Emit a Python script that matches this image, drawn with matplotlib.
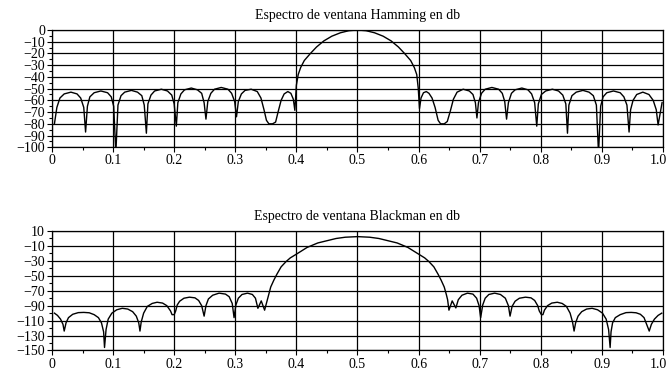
import matplotlib
matplotlib.use('Agg')
import matplotlib.pyplot as plt
from matplotlib.ticker import MultipleLocator
from matplotlib.transforms import ScaledTranslation

plt.rcParams['font.family'] = ['Liberation Serif', 'DejaVu Serif']

# Hamming window spectrum (dB)
ham_x = [0.004, 0.008, 0.013, 0.020, 0.031, 0.041, 0.047, 0.052, 0.055,
         0.058, 0.062, 0.069, 0.080, 0.091, 0.097, 0.101, 0.1045,
         0.108, 0.113, 0.119, 0.130, 0.140, 0.147, 0.151, 0.1545,
         0.157, 0.162, 0.168, 0.179, 0.189, 0.196, 0.200, 0.2035,
         0.206, 0.211, 0.217, 0.228, 0.238, 0.245, 0.249, 0.252,
         0.255, 0.260, 0.266, 0.277, 0.288, 0.294, 0.299, 0.302,
         0.305, 0.310, 0.316, 0.326, 0.336, 0.342, 0.347, 0.351, 0.355, 0.361, 0.366,
         0.370, 0.375, 0.380, 0.386, 0.391, 0.395, 0.3975,
         0.400, 0.403, 0.407, 0.413, 0.423, 0.433, 0.445, 0.458, 0.472, 0.486, 0.500,
         0.514, 0.528, 0.542, 0.555, 0.567, 0.577, 0.587, 0.593, 0.597, 0.5995, 0.6015,
         0.604, 0.608, 0.6126, 0.617, 0.622, 0.627, 0.632, 0.636, 0.642, 0.647,
         0.652, 0.657, 0.663, 0.673, 0.683, 0.689, 0.693, 0.6955,
         0.698, 0.703, 0.709, 0.720, 0.731, 0.737, 0.741, 0.744,
         0.747, 0.752, 0.758, 0.769, 0.779, 0.785, 0.790, 0.7934,
         0.796, 0.801, 0.808, 0.819, 0.829, 0.836, 0.841, 0.8437,
         0.846, 0.851, 0.858, 0.869, 0.879, 0.886, 0.891, 0.8945,
         0.898, 0.902, 0.908, 0.919, 0.930, 0.936, 0.941, 0.9445,
         0.947, 0.951, 0.957, 0.967, 0.977, 0.984, 0.989, 0.992,
         0.9985]
ham_db = [-80, -66, -58, -54.5, -53, -54.5, -58, -66, -87,
          -65, -57, -53.5, -52, -53.5, -57, -65, -105,
          -64, -56, -53, -51.5, -53, -56, -64, -88,
          -63, -55.5, -52, -50.5, -52, -55.5, -63, -82,
          -62, -54.5, -51, -49.5, -51, -54, -62, -76,
          -61, -54, -50.5, -49, -50.5, -54, -61, -74,
          -61, -54.5, -51.5, -50.5, -52.5, -58, -68, -77, -80, -80, -78.5,
          -70, -60, -54.5, -52.5, -54, -59, -68.5,
          -47, -38, -32, -26, -20, -14.5, -9.3, -5.3, -2.4, -0.6, 0,
          -0.6, -2.4, -5.3, -9.3, -14.5, -20, -26, -32, -38, -50, -67,
          -58, -53.5, -52.5, -54, -58, -66, -77, -80, -80, -78,
          -69, -59, -53, -50.5, -52, -55, -62, -75,
          -62, -54, -50.5, -49, -50.5, -54, -61, -76,
          -62, -54, -51, -49.5, -51, -54.5, -62, -82,
          -63, -55, -52, -50.5, -52, -55.5, -63, -88,
          -64, -56, -53, -51.5, -53, -56, -64, -105,
          -65, -57, -53.5, -52, -53.5, -57, -64, -87,
          -68, -60, -55, -53, -55, -60, -68, -81,
          -62]

# Blackman window spectrum (dB)
bla_x = [0.004, 0.009, 0.014, 0.018, 0.020,
         0.023, 0.027, 0.034, 0.043, 0.052, 0.061, 0.069, 0.076, 0.081, 0.0845, 0.086,
         0.0885, 0.092, 0.098, 0.106, 0.115, 0.124, 0.132, 0.138, 0.142, 0.144,
         0.146, 0.150, 0.156, 0.164, 0.172, 0.181, 0.188, 0.194, 0.1965, 0.200, 0.2025,
         0.205, 0.209, 0.216, 0.225, 0.234, 0.240, 0.245, 0.249,
         0.252, 0.256, 0.263, 0.2735, 0.284, 0.290, 0.295, 0.298,
         0.301, 0.305, 0.311, 0.320, 0.328, 0.333, 0.337, 0.3425, 0.348,
         0.3525, 0.3546, 0.358, 0.363, 0.368, 0.375, 0.383, 0.390, 0.400, 0.4175,
         0.435, 0.450, 0.465, 0.480, 0.500, 0.520, 0.535, 0.550, 0.565, 0.5825,
         0.600, 0.610, 0.617, 0.625, 0.632, 0.637, 0.642, 0.6454, 0.6475, 0.6497,
         0.655, 0.661, 0.665, 0.671, 0.680, 0.689, 0.695, 0.699, 0.7016,
         0.705, 0.709, 0.715, 0.7245, 0.734, 0.742, 0.747, 0.7497,
         0.753, 0.758, 0.765, 0.775, 0.784, 0.790, 0.795, 0.7975, 0.801, 0.8035,
         0.806, 0.811, 0.818, 0.827, 0.835, 0.842, 0.848, 0.852, 0.8545,
         0.857, 0.861, 0.867, 0.875, 0.884, 0.893, 0.901, 0.907, 0.911, 0.9135,
         0.915, 0.9175, 0.922, 0.930, 0.9395, 0.948, 0.956, 0.963, 0.969, 0.9775,
         0.981, 0.986, 0.992, 0.998]
bla_db = [-100, -103, -108, -115, -124,
          -113, -106, -101.5, -99.3, -99, -99.5, -102, -106, -113, -125, -146,
          -122, -108, -100, -95.5, -93.5, -94.5, -98, -104, -113, -124,
          -112, -100, -91, -87, -85.4, -86.5, -90, -97, -102, -102, -97,
          -89, -84, -80, -78.6, -79.5, -83, -90, -104,
          -90, -81, -76, -73.2, -74.5, -78, -87, -106,
          -89, -80, -75, -73.2, -75, -80, -93.5, -83.6, -96,
          -82, -75, -65, -56, -48, -38, -31, -26, -21, -12,
          -6, -3, 0, 1.7, 2.5, 1.7, 0, -3, -6, -12,
          -21, -26, -31, -38, -48, -56, -65, -75, -82, -96,
          -83.6, -93, -82, -76, -73.2, -74.5, -80, -90, -106,
          -89, -80, -75, -73.2, -75, -80, -90, -104,
          -91, -84, -80, -78.6, -79.5, -83, -90, -97, -102, -102,
          -96, -90, -86.5, -85.4, -87, -91, -100, -112, -124,
          -113, -104, -98, -94.5, -93.5, -95.5, -100, -108, -122, -146,
          -125, -113, -106, -102, -99.3, -99, -99.5, -101.5, -106, -124,
          -115, -108, -103, -100]

titles = ['Espectro de ventana Hamming en db', 'Espectro de ventana Blackman en db']
x_ticks = [0, 0.1, 0.2, 0.3, 0.4, 0.5, 0.6, 0.7, 0.8, 0.9, 1.0]
x_labels = ['0', '0.1', '0.2', '0.3', '0.4', '0.5', '0.6', '0.7', '0.8', '0.9', '1.0']
ham_yticks = list(range(0, -101, -10))
bla_yticks = list(range(10, -151, -20))

fig = plt.figure(figsize=(6.69, 3.71), dpi=100)
ax1 = fig.add_axes([0.0777, 0.603, 0.9133, 0.3162])
ax2 = fig.add_axes([0.0777, 0.0553, 0.9133, 0.322])

def style(ax, yticks, ylim, minor_y):
    ax.set_xlim(0, 1.0)
    ax.set_ylim(*ylim)
    ax.set_xticks(x_ticks)
    ax.set_xticklabels(x_labels)
    ax.set_yticks(yticks)
    ax.xaxis.set_minor_locator(MultipleLocator(0.05))
    ax.yaxis.set_minor_locator(MultipleLocator(minor_y))
    ax.grid(True, which='major', color='black', linewidth=0.9)
    ax.tick_params(which='major', direction='out', length=3.6, width=0.8,
                   labelsize=10, pad=1.5, top=False, right=False)
    ax.tick_params(which='minor', direction='out', length=2.5, width=0.8,
                   top=False, right=False)
    for s in ax.spines.values():
        s.set_linewidth(0.9)
    # keep the last x label inside the figure, as in the reference
    last = ax.get_xticklabels()[-1]
    last.set_horizontalalignment('right')
    last.set_transform(last.get_transform() + ScaledTranslation(4 / 100, 0, fig.dpi_scale_trans))

ax1.plot(ham_x, ham_db, color='black', linewidth=1.0)
style(ax1, ham_yticks, (-100, 0), 5)
ax1.set_title(titles[0], fontsize=10, pad=8)

ax2.plot(bla_x, bla_db, color='black', linewidth=1.0)
style(ax2, bla_yticks, (-150, 10), 10)
ax2.set_title(titles[1], fontsize=10, pad=8)

fig.savefig('out.png', dpi=100)
